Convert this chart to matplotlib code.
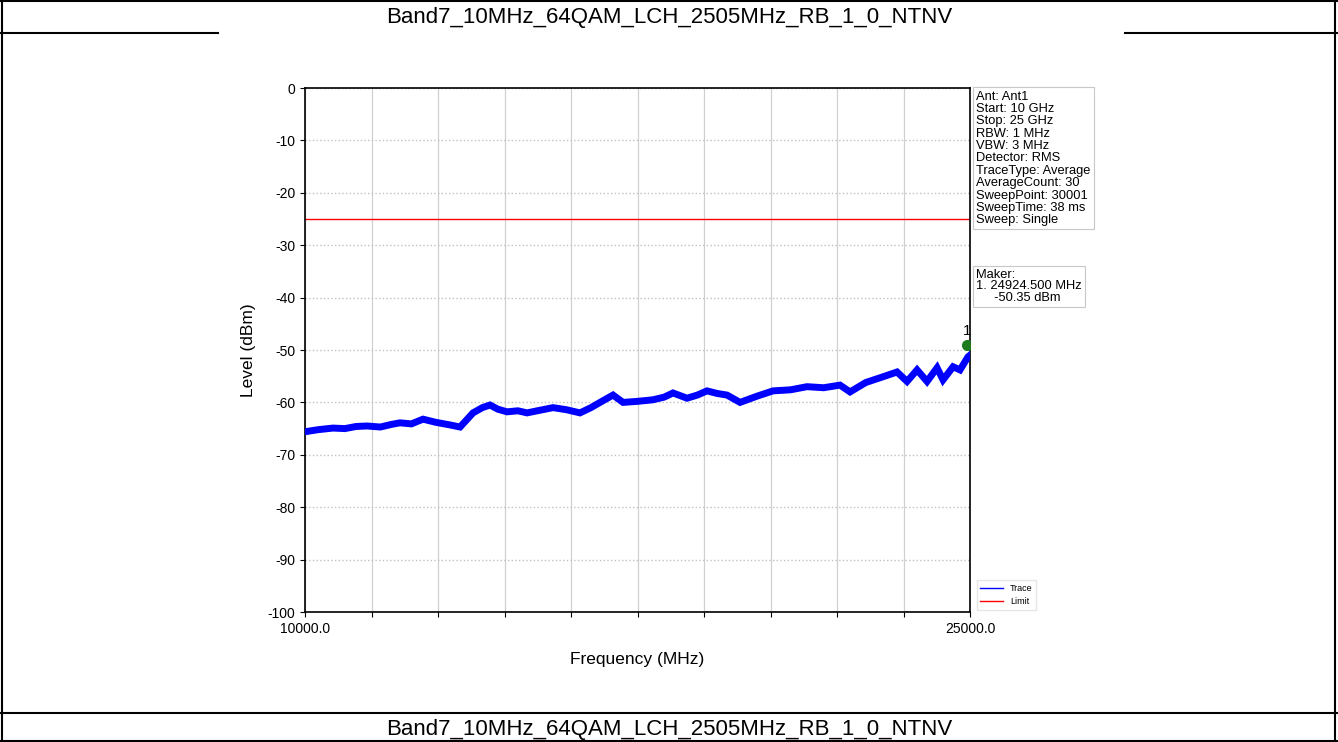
import numpy as np
import matplotlib
matplotlib.use("Agg")
import matplotlib.pyplot as plt
from matplotlib.lines import Line2D

plt.rcParams['font.family'] = ['Liberation Sans', 'DejaVu Sans']
plt.rcParams['axes.unicode_minus'] = False

title = "Band7_10MHz_64QAM_LCH_2505MHz_RB_1_0_NTNV"

# trace readings (MHz, dBm)
freq = [10000, 10300, 10632, 10900, 11150, 11399, 11700, 11950, 12143, 12400,
        12662, 12950, 13271, 13497, 13790, 14000, 14173, 14350, 14557, 14800,
        15008, 15300, 15594, 15900, 16203, 16450, 16655, 16948, 17174, 17500,
        17850, 18100, 18301, 18617, 18850, 19068, 19300, 19519, 19813, 20200,
        20557, 20950, 21324, 21700, 22068, 22294, 22650, 22971, 23354, 23580,
        23806, 24031, 24257, 24392, 24618, 24775, 24955, 25000]
level = [-65.6, -65.2, -64.9, -65.0, -64.6, -64.5, -64.7, -64.2, -63.9, -64.1,
         -63.2, -63.8, -64.3, -64.7, -62.0, -61.0, -60.5, -61.3, -61.8, -61.6,
         -62.0, -61.5, -61.0, -61.4, -62.0, -61.0, -60.0, -58.6, -60.0, -59.8,
         -59.5, -59.0, -58.2, -59.2, -58.6, -57.8, -58.3, -58.6, -60.0, -58.8,
         -57.8, -57.6, -57.0, -57.2, -56.7, -58.0, -56.2, -55.3, -54.2, -56.0,
         -53.8, -56.0, -53.4, -55.7, -53.2, -53.8, -51.3, -51.0]

limit_level = -25
marker_freq = 24924.5
marker_level = -50.35
marker_drawn = -49.0

x_ticks = np.arange(10000, 25001, 1500)
y_ticks = np.arange(-100, 1, 10)

info_text = ("Ant: Ant1\nStart: 10 GHz\nStop: 25 GHz\nRBW: 1 MHz\nVBW: 3 MHz\n"
             "Detector: RMS\nTraceType: Average\nAverageCount: 30\n"
             "SweepPoint: 30001\nSweepTime: 38 ms\nSweep: Single")
marker_text = "Maker:\n1. %.3f MHz\n     %.2f dBm" % (marker_freq, marker_level)

fig = plt.figure(figsize=(13.38, 7.42), dpi=100)

# table borders around the embedded chart
H = 742.0
W = 1338.0
def hline(y, x0=0, x1=W, lw=1.5):
    fig.add_artist(Line2D([x0 / W, x1 / W], [1 - y / H, 1 - y / H], color='black', lw=lw))
def vline(x, y0=0, y1=H, lw=1.5):
    fig.add_artist(Line2D([x / W, x / W], [1 - y0 / H, 1 - y1 / H], color='black', lw=lw))

hline(1)
hline(741)
vline(2)
vline(1335)
hline(33, 0, 218)
hline(33, 1125, W)
hline(713)
fig.text(0.5, 1 - 17 / H, title, ha='center', va='center', fontsize=16)
fig.text(0.5, 1 - 729 / H, title, ha='center', va='center', fontsize=16)

ax = fig.add_axes([305 / W, 1 - 612 / H, 665 / W, 524 / H])
ax.plot(freq, level, color='blue', lw=5, solid_joinstyle='miter', zorder=3)
ax.axhline(limit_level, color='red', lw=1, zorder=2)
ax.plot([marker_freq], [marker_drawn], 'o', color='#1e7a1e', ms=7, zorder=4)
ax.text(marker_freq, marker_drawn + 1.2, "1", ha='center', va='bottom', fontsize=11)

ax.set_xlim(10000, 25000)
ax.set_ylim(-100, 0)
ax.set_xticks(x_ticks)
ax.set_xticklabels(["10000.0"] + [""] * (len(x_ticks) - 2) + ["25000.0"], fontsize=10)
ax.set_yticks(y_ticks)
ax.tick_params(axis='y', labelsize=10)
ax.xaxis.grid(True, color='#d0d0d0', linestyle='-', lw=0.9)
ax.yaxis.grid(True, color='#c0c0c0', linestyle=':', lw=1.0)
ax.set_xlabel("Frequency (MHz)", fontsize=12.5, labelpad=12)
ax.set_ylabel("Level (dBm)", fontsize=12.5, labelpad=8)
for s in ax.spines.values():
    s.set_linewidth(1.2)

box = dict(boxstyle='square,pad=0.25', fc='white', ec='#c8c8c8', lw=0.8)
ax.text(1.009, 0.995, info_text, transform=ax.transAxes, va='top', ha='left',
        fontsize=9.3, linespacing=1.04, bbox=box)
ax.text(1.009, 0.655, marker_text, transform=ax.transAxes, va='top', ha='left',
        fontsize=9.3, linespacing=0.95, bbox=box)

handles = [Line2D([], [], color='blue', lw=1), Line2D([], [], color='red', lw=1)]
ax.legend(handles, ['Trace', 'Limit'], loc='lower left', bbox_to_anchor=(1.003, -0.005),
          fontsize=6.5, frameon=True, fancybox=False, edgecolor='#e0e0e0', handlelength=2.5)

fig.savefig("out.png", dpi=100)
